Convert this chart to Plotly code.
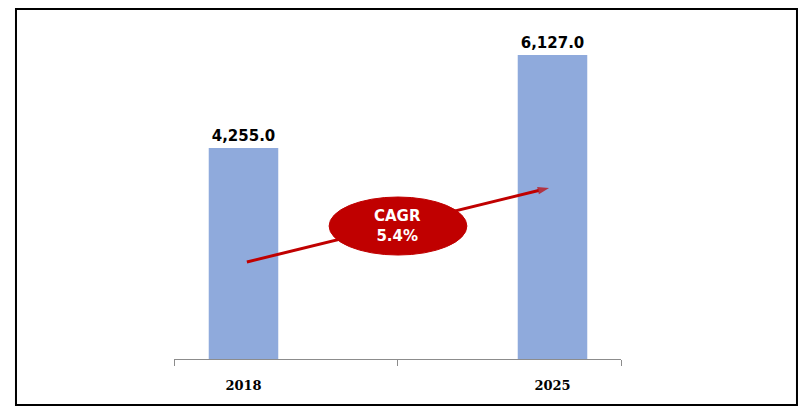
import plotly.graph_objects as go

years = ["2018", "2025"]
values = [4255.0, 6127.0]
cagr_label = "CAGR<br>5.4%"

xpos = [0, 1]
x_range = [-0.2249, 1.2217]
y_range = [0, 6835]

fig = go.Figure()

fig.add_trace(go.Bar(
    x=xpos, y=values, width=0.225,
    marker=dict(color="#8FAADC", line=dict(width=0)),
    text=[f"{v:,.1f}" for v in values],
    textposition="outside",
    textfont=dict(family="DejaVu Sans", size=15, color="black", weight="bold"),
    cliponaxis=False,
    showlegend=False,
))

# CAGR arrow (drawn beneath ellipse)
fig.add_trace(go.Scatter(
    x=[0.011, 0.989], y=[1956, 3448],
    mode="lines+markers",
    line=dict(color="#C00000", width=3),
    marker=dict(symbol=["circle", "arrow"], size=[0, 12], angleref="previous",
                color="#C00000", line=dict(width=0)),
    showlegend=False, hoverinfo="skip",
))

fig.add_trace(go.Scatter(x=[0.5], y=[0], xaxis="x2", mode="markers",
                         marker=dict(size=0, opacity=0), showlegend=False, hoverinfo="skip"))

fig.add_shape(type="circle", xref="x", yref="y", x0=0.277, x1=0.723, y0=2096, y1=3266,
              fillcolor="#C00000", line=dict(color="#C00000", width=1), layer="above")

fig.add_annotation(x=0.5, y=2681, xref="x", yref="y", text=cagr_label, showarrow=False,
                   font=dict(family="DejaVu Sans", size=15, color="white", weight="bold"))

# outer border
fig.add_shape(type="rect", xref="paper", yref="paper", x0=-0.3535, x1=1.3937, y0=-0.1357, y1=1.0324,
              line=dict(color="black", width=2), fillcolor="rgba(0,0,0,0)", layer="below")

fig.update_layout(
    width=811, height=415,
    margin=dict(l=174, r=190, t=20, b=56),
    paper_bgcolor="white", plot_bgcolor="white",
    xaxis=dict(range=x_range, tickvals=xpos, ticktext=years, showgrid=False, zeroline=False,
               showline=True, linecolor="#8C8C8C", linewidth=1, ticks="",
               tickfont=dict(family="DejaVu Serif", size=13, color="black", weight="bold"),
               ticklabelstandoff=14),
    xaxis2=dict(range=x_range, overlaying="x", anchor="y", side="bottom",
                tickvals=[x_range[0], 0.5, x_range[1]], ticktext=["", "", ""],
                ticks="outside", ticklen=6, tickcolor="#8C8C8C", showgrid=False, zeroline=False,
                showline=False),
    yaxis=dict(range=y_range, visible=False),
)

fig.write_html("out.html")
